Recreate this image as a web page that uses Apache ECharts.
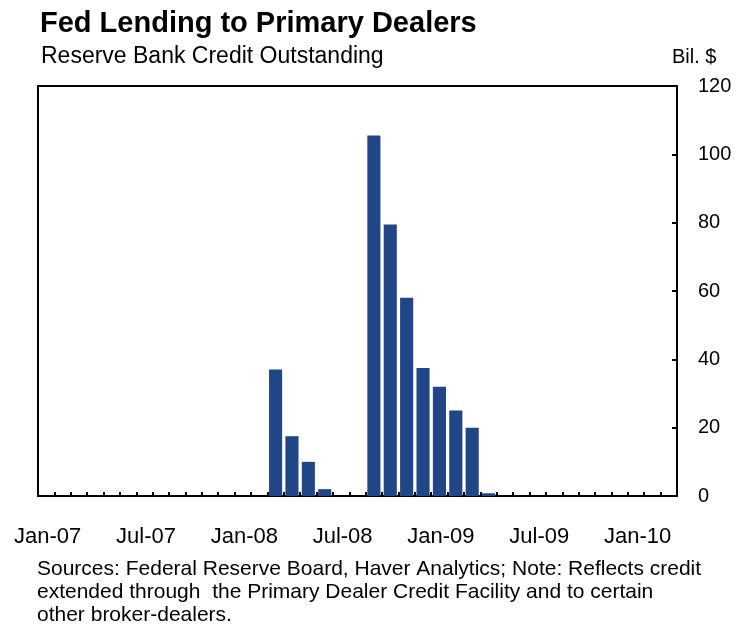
<!DOCTYPE html>
<html>
<head>
<meta charset="utf-8">
<script src="https://cdn.jsdelivr.net/npm/echarts@6/dist/echarts.min.js"></script>
<style>
  html, body { margin: 0; padding: 0; background: #fff; }
  #main { width: 745px; height: 629px; }
</style>
</head>
<body>
<div id="main"></div>
<script>
// months Jan-07 .. Mar-10
var months = [
  'Jan-07', 'Feb-07', 'Mar-07', 'Apr-07', 'May-07', 'Jun-07', 'Jul-07', 'Aug-07', 'Sep-07', 'Oct-07', 'Nov-07', 'Dec-07',
  'Jan-08', 'Feb-08', 'Mar-08', 'Apr-08', 'May-08', 'Jun-08', 'Jul-08', 'Aug-08', 'Sep-08', 'Oct-08', 'Nov-08', 'Dec-08',
  'Jan-09', 'Feb-09', 'Mar-09', 'Apr-09', 'May-09', 'Jun-09', 'Jul-09', 'Aug-09', 'Sep-09', 'Oct-09', 'Nov-09', 'Dec-09',
  'Jan-10', 'Feb-10', 'Mar-10'
];

// Bil. $
var credit = [
  0, 0, 0, 0, 0, 0, 0, 0, 0, 0, 0, 0,
  0, 0, 37, 17.5, 10, 2, 0, 0, 105.5, 79.5, 58, 37.5,
  32, 25, 20, 0.8, 0, 0, 0, 0, 0, 0, 0, 0,
  0, 0, 0
];

var yTicks = [0, 20, 40, 60, 80, 100, 120];

var footer = [
  'Sources: Federal Reserve Board, Haver Analytics; Note: Reflects credit',
  'extended through  the Primary Dealer Credit Facility and to certain',
  'other broker-dealers.'
];

var chart = echarts.init(document.getElementById('main'), null, { renderer: 'canvas' });

var font = '"Liberation Sans", Arial, sans-serif';

var titles = [
  {
    text: 'Fed Lending to Primary Dealers',
    left: 40, top: 9, padding: 0,
    textStyle: { fontFamily: font, fontSize: 29, fontWeight: 'bold', color: '#000' }
  },
  {
    text: 'Reserve Bank Credit Outstanding',
    left: 41, top: 45, padding: 0,
    textStyle: { fontFamily: font, fontSize: 23, fontWeight: 'normal', color: '#000' }
  },
  {
    text: 'Bil. $',
    left: 672, top: 47, padding: 0,
    textStyle: { fontFamily: font, fontSize: 20, fontWeight: 'normal', color: '#000' }
  }
];
footer.forEach(function (line, i) {
  titles.push({
    text: line,
    left: 37, top: 559 + i * 23, padding: 0,
    textStyle: { fontFamily: font, fontSize: 21, fontWeight: 'normal', color: '#000' }
  });
});

var option = {
  backgroundColor: '#fff',
  animation: false,
  title: titles,
  grid: {
    left: 38, right: 68, top: 86, bottom: 133,
    show: true,
    borderColor: '#000',
    borderWidth: 2
  },
  xAxis: {
    type: 'category',
    data: months,
    axisLine: { lineStyle: { color: '#000', width: 2 } },
    axisTick: { show: true, inside: true, length: 4, interval: 0, lineStyle: { color: '#000', width: 2 } },
    axisLabel: {
      interval: 5,
      margin: 30,
      padding: [0, 0, 0, 3],
      fontFamily: font, fontSize: 22, color: '#000'
    },
    splitLine: { show: false }
  },
  yAxis: {
    type: 'value',
    position: 'right',
    min: 0, max: 120, interval: 20,
    axisLine: { show: true, lineStyle: { color: '#000', width: 2 } },
    axisTick: { show: true, inside: true, length: 5, lineStyle: { color: '#000', width: 2 } },
    axisLabel: {
      margin: 21,
      fontFamily: font, fontSize: 20, color: '#000',
      formatter: function (v) { return yTicks.indexOf(v) >= 0 ? String(v) : ''; }
    },
    splitLine: { show: false }
  },
  series: [
    {
      name: 'Reserve Bank Credit Outstanding',
      type: 'bar',
      data: credit,
      barCategoryGap: '20%',
      itemStyle: { color: '#214687' }
    }
  ]
};

chart.setOption(option);
</script>
</body>
</html>
